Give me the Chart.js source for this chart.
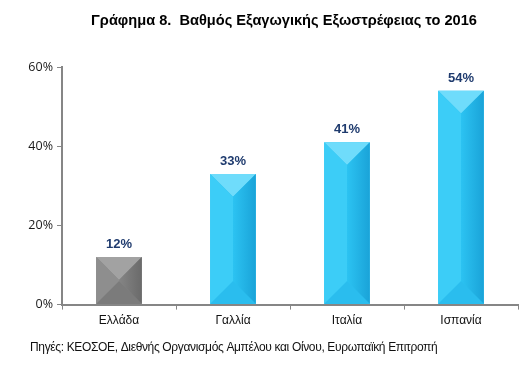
<!DOCTYPE html>
<html>
<head>
<meta charset="utf-8">
<script src="https://cdn.jsdelivr.net/npm/chart.js@4"></script>
<style>
  body { margin: 0; background: #fff; }
  #wrap { width: 531px; height: 375px; }
</style>
</head>
<body>
<div id="wrap"><canvas id="exportChart" width="531" height="375"></canvas></div>
<script>
// Data
const countries = ['Ελλάδα', 'Γαλλία', 'Ιταλία', 'Ισπανία'];
const exportShare = [12, 33, 41, 54];
const yTicks = [0, 20, 40, 60];
const chartTitle = 'Γράφημα 8.  Βαθμός Εξαγωγικής Εξωστρέφειας το 2016';
const sourceNote = 'Πηγές: ΚΕΟΣΟΕ, Διεθνής Οργανισμός Αμπέλου και Οίνου, Ευρωπαϊκή Επιτροπή';

// Colours for the bevelled bars (Greece grey, the rest cyan)
const palette = {
    grey: { base: '#858585', top: '#a2a2a2', left: '#8e8e8e', right: '#6a6a6a', bottom: '#7b7b7b' },
    blue: { base: '#2cc3f2', top: '#6fdcfb', left: '#3ccdf7', right: '#1aa3d8', bottom: '#2abdee' }
};
const barColours = countries.map((c, i) => i === 0 ? palette.grey : palette.blue);

// Draw the pyramid-like bevel on top of each bar
const bevelPlugin = {
    id: 'bevel',
    afterDatasetsDraw(chart) {
        const ctx = chart.ctx;
        const meta = chart.getDatasetMeta(0);
        meta.data.forEach((bar, i) => {
            const c = barColours[i];
            const l = bar.x - bar.width / 2, r = bar.x + bar.width / 2;
            const t = bar.y, b = bar.base;
            const inset = Math.min(bar.width / 2, (b - t) / 2);
            const it = t + inset, ib = b - inset;
            const face = (pts, fill) => {
                ctx.beginPath();
                ctx.moveTo(pts[0][0], pts[0][1]);
                pts.slice(1).forEach(p => ctx.lineTo(p[0], p[1]));
                ctx.closePath();
                ctx.fillStyle = fill;
                ctx.fill();
            };
            ctx.save();
            face([[l, t], [r, t], [bar.x, it]], c.top);
            face([[l, t], [bar.x, it], [bar.x, ib], [l, b]], c.left);
            const g = ctx.createLinearGradient(bar.x, 0, r, 0);
            g.addColorStop(0, c.base);
            g.addColorStop(1, c.right);
            face([[r, t], [r, b], [bar.x, ib], [bar.x, it]], g);
            face([[l, b], [bar.x, ib], [r, b]], c.bottom);
            ctx.restore();
        });
    }
};

// Value labels, title and source note
const textPlugin = {
    id: 'texts',
    afterDraw(chart) {
        const ctx = chart.ctx;
        const meta = chart.getDatasetMeta(0);
        ctx.save();
        ctx.textAlign = 'center';
        ctx.textBaseline = 'bottom';
        ctx.fillStyle = '#1f3b6e';
        ctx.font = 'bold 13px "Liberation Sans", Arial, sans-serif';
        meta.data.forEach((bar, i) => {
            ctx.fillText(exportShare[i] + '%', bar.x, bar.y - 6);
        });
        ctx.fillStyle = '#000';
        ctx.font = 'bold 14.6px "Liberation Sans", Arial, sans-serif';
        ctx.textBaseline = 'middle';
        ctx.fillText(chartTitle, 284, 21);
        ctx.textAlign = 'left';
        ctx.font = '12px "Liberation Sans", Arial, sans-serif';
        ctx.letterSpacing = '-0.35px';
        ctx.fillStyle = '#111';
        ctx.fillText(sourceNote, 30, 348);
        ctx.restore();
    }
};

const ctx = document.getElementById('exportChart').getContext('2d');
const exportChart = new Chart(ctx, {
    type: 'bar',
    data: {
        labels: countries,
        datasets: [{
            data: exportShare,
            backgroundColor: barColours.map(c => c.base),
            borderWidth: 0,
            categoryPercentage: 1,
            barPercentage: 0.4
        }]
    },
    options: {
        responsive: false,
        animation: false,
        layout: { padding: { top: 67, right: 13, bottom: 43, left: 0 } },
        plugins: {
            legend: { display: false },
            title: { display: false },
            tooltip: { enabled: false }
        },
        scales: {
            x: {
                grid: { display: true, drawOnChartArea: false, tickLength: 5, color: '#868686', lineWidth: 1 },
                border: { color: '#868686', width: 2 },
                ticks: {
                    color: '#111',
                    font: { family: '"Liberation Sans", Arial, sans-serif', size: 12 },
                    padding: 4
                }
            },
            y: {
                min: 0,
                max: 60,
                afterBuildTicks(scale) {
                    scale.ticks = yTicks.map(v => ({ value: v }));
                },
                afterFit(scale) { scale.width = 62; },
                grid: { display: true, drawOnChartArea: false, tickLength: 5, color: '#868686', lineWidth: 1 },
                border: { color: '#868686', width: 2 },
                ticks: {
                    color: '#1a1a1a',
                    font: { family: '"Open Sans", "Liberation Sans", sans-serif', size: 12.5 },
                    padding: 4,
                    callback: v => v + '%'
                }
            }
        }
    },
    plugins: [bevelPlugin, textPlugin]
});
</script>
</body>
</html>
